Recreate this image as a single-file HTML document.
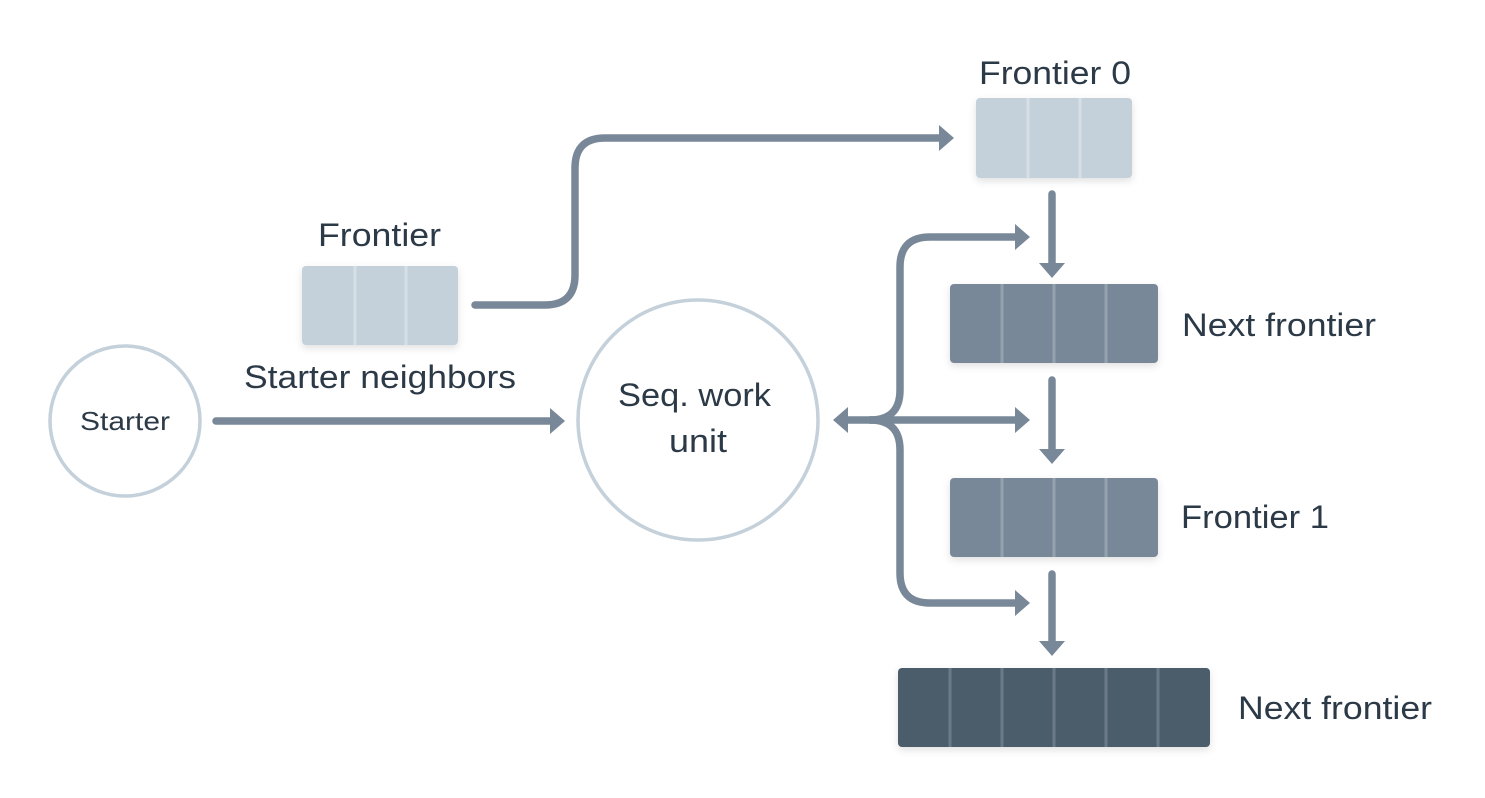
<!DOCTYPE html>
<html><head><style>html,body{margin:0;padding:0;background:#fff}svg{display:block}text{font-family:"Liberation Sans",sans-serif;fill:#2c3a47}</style></head>
<body>
<svg width="1485" height="798" viewBox="0 0 1485 798" xmlns="http://www.w3.org/2000/svg">
<defs><filter id="sh" x="-10%" y="-10%" width="120%" height="130%"><feDropShadow dx="0" dy="3" stdDeviation="4" flood-color="#000" flood-opacity="0.12"/></filter></defs>
<g fill="none" stroke="#798898" stroke-width="7.5" stroke-linecap="round">
<circle cx="125" cy="421" r="75" stroke="#c4d0da" stroke-width="3.5"/>
<circle cx="698" cy="420" r="120" stroke="#c4d0da" stroke-width="3.5"/>
<path d="M216,421 H552"/>
<path d="M475,305 H545 Q575,305 575,275 V168 Q575,138 605,138 H940"/>
<path d="M1052,194 V264"/>
<path d="M1052,380 V450"/>
<path d="M1052,574 V645"/>
<path d="M845,420 H1015"/>
<path d="M870,420 Q900,420 900,390 V267 Q900,237 930,237 H1015"/>
<path d="M870,420 Q900,420 900,450 V573 Q900,603 930,603 H1015"/>
</g>
<g fill="#798898">
<path d="M565,421 L550,408 L550,434 Z"/>
<path d="M954,138 L939,125 L939,151 Z"/>
<path d="M1030,237 L1015,224 L1015,250 Z"/>
<path d="M1030,420 L1015,407 L1015,433 Z"/>
<path d="M1030,603 L1015,590 L1015,616 Z"/>
<path d="M833,420 L848,407 L848,433 Z"/>
<path d="M1052,278 L1039,263 L1065,263 Z"/>
<path d="M1052,464 L1039,449 L1065,449 Z"/>
<path d="M1052,656 L1039,641 L1065,641 Z"/>
</g>
<g filter="url(#sh)">
<rect x="302" y="266" width="156" height="79" rx="4" fill="#c4d0da"/>
<rect x="976" y="98" width="156" height="80" rx="4" fill="#c4d0da"/>
<rect x="950" y="284" width="208" height="79" rx="4" fill="#798898"/>
<rect x="950" y="478" width="208" height="79" rx="4" fill="#798898"/>
<rect x="898" y="668" width="312" height="79" rx="4" fill="#4b5b6a"/>
</g>
<g stroke-width="3">
<path d="M355,266V345M406,266V345" stroke="#d6dfe6"/>
<path d="M1028,98V178M1080,98V178" stroke="#d6dfe6"/>
<path d="M1002,284V363M1054,284V363M1106,284V363M1002,478V557M1054,478V557M1106,478V557" stroke="#95a2ae"/>
<path d="M950,668V747M1002,668V747M1054,668V747M1106,668V747M1158,668V747" stroke="#6b7a88"/>
</g>
<g font-size="32" lengthAdjust="spacingAndGlyphs">
<text x="979" y="84" textLength="152" lengthAdjust="spacingAndGlyphs">Frontier 0</text>
<text x="318" y="246" textLength="123" lengthAdjust="spacingAndGlyphs">Frontier</text>
<text x="244" y="388" textLength="272" lengthAdjust="spacingAndGlyphs">Starter neighbors</text>
<text x="1182" y="336" textLength="194" lengthAdjust="spacingAndGlyphs">Next frontier</text>
<text x="1181" y="528" textLength="148" lengthAdjust="spacingAndGlyphs">Frontier 1</text>
<text x="1238" y="719" textLength="194" lengthAdjust="spacingAndGlyphs">Next frontier</text>
<text x="80" y="430" font-size="26" textLength="90" lengthAdjust="spacingAndGlyphs">Starter</text>
<text x="618" y="406" textLength="153" lengthAdjust="spacingAndGlyphs">Seq. work</text>
<text x="669" y="452" textLength="58" lengthAdjust="spacingAndGlyphs">unit</text>
</g>
</svg>
</body></html>
